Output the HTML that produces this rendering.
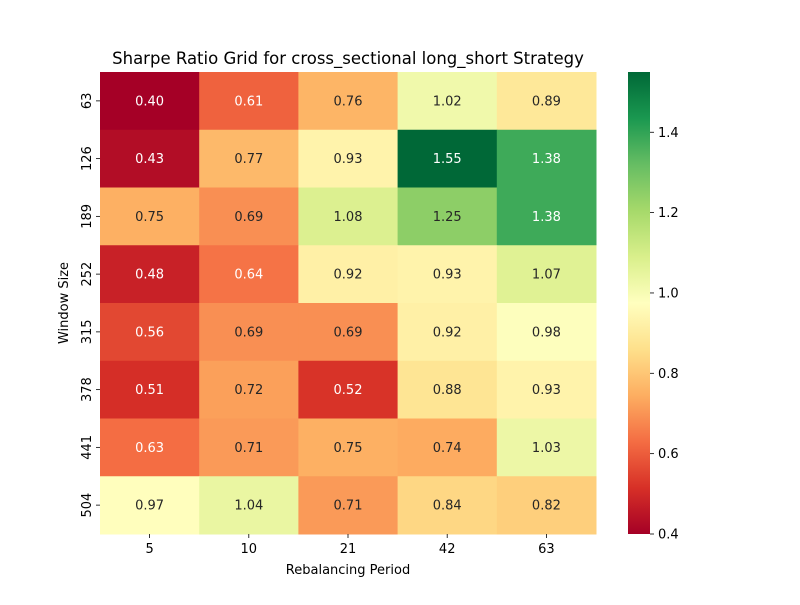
<!DOCTYPE html>
<html><head><meta charset="utf-8"><style>
body{margin:0;background:#fff;}
svg text{font-family:"DejaVu Sans","Liberation Sans",sans-serif;}
</style></head><body>
<svg id="chart" width="800" height="600" xmlns="http://www.w3.org/2000/svg">
<text x="348" y="64" font-size="16.5" text-anchor="middle" fill="#000">Sharpe Ratio Grid for cross_sectional long_short Strategy</text>
<g id="cells"></g>
<g id="xticks"></g>
<g id="yticks"></g>
<text x="348" y="574" font-size="13" text-anchor="middle">Rebalancing Period</text>
<text x="0" y="0" font-size="13" text-anchor="middle" transform="translate(68,303) rotate(-90)">Window Size</text>
<defs><linearGradient id="cbgrad" x1="0" y1="1" x2="0" y2="0"></linearGradient></defs>
<rect x="628" y="72" width="22" height="462" fill="url(#cbgrad)"/>
<g id="cbticks"></g>
</svg>
<script>
const columns = ["5","10","21","42","63"];
const rows = ["63","126","189","252","315","378","441","504"];
const values = [
 [0.40,0.61,0.76,1.02,0.89],
 [0.43,0.77,0.93,1.55,1.38],
 [0.75,0.69,1.08,1.25,1.38],
 [0.48,0.64,0.92,0.93,1.07],
 [0.56,0.69,0.69,0.92,0.98],
 [0.51,0.72,0.52,0.88,0.93],
 [0.63,0.71,0.75,0.74,1.03],
 [0.97,1.04,0.71,0.84,0.82]
];
const cbTicks = [0.4,0.6,0.8,1.0,1.2,1.4];
const vmin = 0.40, vmax = 1.55;
const X0=100,X1=596,Y0=72,Y1=534;
const NS="http://www.w3.org/2000/svg";
const stops=["#a50026","#d73027","#f46d43","#fdae61","#fee08b","#ffffbf","#d9ef8b","#a6d96a","#66bd63","#1a9850","#006837"];
function hex(h){return [1,3,5].map(i=>parseInt(h.substr(i,2),16));}
function cmap(t){t=Math.max(0,Math.min(1,t));const p=t*10,i=Math.min(9,Math.floor(p)),f=p-i;const a=hex(stops[i]),b=hex(stops[i+1]);return a.map((v,k)=>Math.round(v+(b[k]-v)*f));}
function lum(c){const l=c.map(v=>{v/=255;return v<=0.03928?v/12.92:Math.pow((v+0.055)/1.055,2.4);});return 0.2126*l[0]+0.7152*l[1]+0.0722*l[2];}
const cw=(X1-X0)/columns.length, rh=(Y1-Y0)/rows.length;
const xPos=i=>X0+i*cw, yPos=j=>Y0+j*rh;
const cbY=v=>Y1-(v-vmin)/(vmax-vmin)*(Y1-Y0);
function mk(tag,attrs,parent){const e=document.createElementNS(NS,tag);for(const k in attrs)e.setAttribute(k,attrs[k]);parent.appendChild(e);return e;}
const cells=document.getElementById('cells');
values.forEach((row,j)=>row.forEach((v,i)=>{
 const c=cmap((v-vmin)/(vmax-vmin));
 const r=mk('rect',{x:xPos(i),y:yPos(j),width:cw+0.5,height:rh+0.5,fill:`rgb(${c})`},cells);
 
 
 const t=mk('text',{x:xPos(i)+cw/2,y:yPos(j)+rh/2+4.5,'font-size':13,'text-anchor':'middle',fill:lum(c)>0.345?'#262626':'#fff'},cells);
 t.textContent=v.toFixed(2);
 
 
}));
const xt=document.getElementById('xticks');
columns.forEach((c,i)=>{const x=xPos(i)+cw/2;
 const l=mk('line',{x1:x,x2:x,y1:Y1,y2:Y1+4,stroke:'#000','stroke-width':0.8},xt);
 
 
 const t=mk('text',{x:x,y:Y1+19,'font-size':13,'text-anchor':'middle'},xt);t.textContent=c;
 
 
});
const yt=document.getElementById('yticks');
rows.forEach((r,j)=>{const y=yPos(j)+rh/2;
 const l=mk('line',{x1:X0-4,x2:X0,y1:y,y2:y,stroke:'#000','stroke-width':0.8},yt);
 
 
 const t=mk('text',{x:0,y:0,'font-size':13,'text-anchor':'middle',transform:`translate(${X0-9},${y}) rotate(-90)`},yt);t.textContent=r;
 
 
});
const g=document.getElementById('cbgrad');
stops.forEach((s,i)=>mk('stop',{offset:(i/10),'stop-color':s},g));
const cb=document.getElementById('cbticks');
cbTicks.forEach(v=>{const y=cbY(v);
 const l=mk('line',{x1:650,x2:654,y1:y,y2:y,stroke:'#000','stroke-width':0.8},cb);
 
 
 const t=mk('text',{x:658,y:y+4.5,'font-size':13},cb);t.textContent=v.toFixed(1);
 
 
});
</script>
</body></html>
